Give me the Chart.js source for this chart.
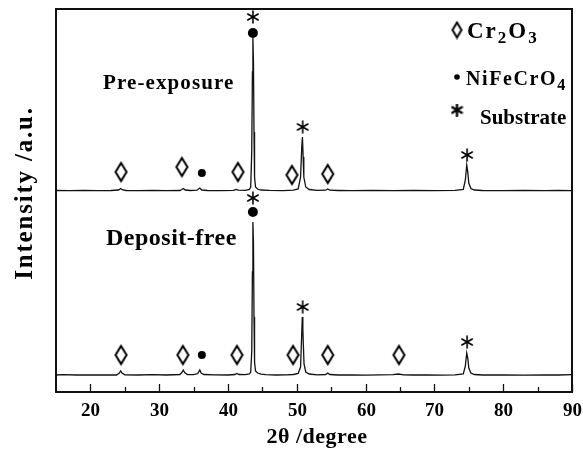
<!DOCTYPE html>
<html>
<head>
<meta charset="utf-8">
<script src="https://cdn.jsdelivr.net/npm/chart.js@4.4.0/dist/chart.umd.min.js"></script>
<style>
  html, body { margin: 0; background: #fff; }
  #wrap { width: 583px; height: 453px; }
</style>
</head>
<body>
<div id="wrap"><canvas id="xrd"></canvas></div>
<script>
// 2theta / intensity (a.u., lower one sits at ~17, upper one offset to ~201)
const lowerTheta = [15, 16, 18, 20, 22, 23.8, 24.2, 24.4, 24.6, 25, 27, 29, 31, 33, 33.3, 33.5, 33.7, 34.1, 35, 35.6, 35.9, 36.1, 36.5, 38, 40, 41, 41.3, 41.6, 42.5, 43.1, 43.3, 43.45, 43.55, 43.62, 43.7, 43.78, 43.86, 44, 44.3, 44.8, 45.5, 47, 48.5, 49.5, 50.2, 50.55, 50.7, 50.8, 50.88, 50.95, 51.05, 51.3, 51.8, 53, 54.2, 54.5, 54.8, 56, 58, 60, 62, 64, 64.8, 65.5, 67, 69, 71, 73, 74.2, 74.5, 74.7, 74.85, 75, 75.3, 75.8, 77, 80, 83, 86, 88, 90];
const lowerCounts = [17, 17.3, 17, 17.2, 17, 17, 19, 21, 19, 17.2, 17, 17.3, 17, 17.5, 19.5, 22, 19.5, 17.5, 17.3, 18.5, 22, 19, 17.5, 17.2, 17, 17.5, 18.5, 17.5, 17.3, 18, 20, 40, 120, 170, 150, 75, 30, 21, 19, 17.8, 17.3, 17, 17.2, 17.5, 18.5, 25, 55, 75, 62, 48, 28, 20, 18, 17.2, 17.5, 19, 17.5, 17, 17.2, 16.8, 17.2, 17.3, 18, 17.2, 17, 17.2, 16.9, 17.1, 18, 26, 39, 34, 24, 19, 17.5, 17, 17.2, 16.9, 17.2, 17, 17.3];

const upperTheta = [15, 17, 19, 21, 23, 24.1, 24.4, 24.7, 25.2, 27, 29, 31, 33, 33.3, 33.5, 33.8, 34.5, 35.5, 35.9, 36.2, 37, 39, 40.8, 41.2, 41.5, 42.5, 43.1, 43.3, 43.45, 43.55, 43.62, 43.7, 43.78, 43.86, 44, 44.3, 44.8, 46, 48, 49.5, 50.2, 50.55, 50.72, 50.82, 50.92, 51.02, 51.3, 51.8, 53, 54.2, 54.5, 54.8, 56, 58, 61, 64, 67, 70, 73, 74.2, 74.5, 74.7, 74.85, 75, 75.3, 75.8, 77, 80, 83, 86, 88, 90];
const upperCounts = [201.5, 201.3, 201.6, 201.3, 201.5, 202, 203.5, 202, 201.5, 201.3, 201.6, 201.4, 201.5, 202.5, 203.5, 202, 201.5, 201.8, 204, 202, 201.5, 201.3, 201.6, 202.5, 201.8, 201.7, 202.5, 205, 240, 320, 354, 330, 260, 215, 205, 203, 202, 201.6, 201.3, 201.8, 203, 215, 245, 255, 235, 215, 205, 202.5, 201.7, 201.8, 203, 201.8, 201.5, 201.3, 201.6, 201.3, 201.5, 201.4, 201.6, 202.5, 212, 227, 220, 209, 203.5, 202, 201.5, 201.3, 201.6, 201.3, 201.5, 201.4];

// phase markers (2theta, height where the symbol sits)
const cr2o3Theta = [24.45, 33.3, 41.45, 49.3, 54.5, 24.45, 33.45, 41.3, 49.45, 54.5, 64.85];
const cr2o3Y     = [220, 225, 220, 217, 218, 37, 37, 37, 37, 37, 37];
const spinelTheta = [36.2, 43.62, 36.2, 43.62];
const spinelY     = [219, 359, 37, 180];
const spinelSize  = [4, 5, 4, 5];
const substrateTheta = [43.62, 50.85, 74.75, 43.62, 50.85, 74.75];
const substrateY     = [375, 265, 237, 194, 85, 50];

const tickVals = [20, 30, 40, 50, 60, 70, 80, 90];
const minorVals = [25, 35, 45, 55, 65, 75, 85];

const SERIF = "'Liberation Serif', 'DejaVu Serif', serif";

function makeDiamond(w, h, lw) {
    const c = document.createElement('canvas');
    c.width = w; c.height = h;
    const g = c.getContext('2d');
    g.strokeStyle = '#000';
    g.lineWidth = lw;
    g.beginPath();
    g.moveTo(w / 2, lw);
    g.lineTo(w - lw, h / 2);
    g.lineTo(w / 2, h - lw);
    g.lineTo(lw, h / 2);
    g.closePath();
    g.stroke();
    return c;
}

function makeStar(r, lw) {
    const s = Math.ceil(2 * r + 2);
    const c = document.createElement('canvas');
    c.width = s; c.height = s;
    const g = c.getContext('2d');
    g.strokeStyle = '#000';
    g.lineWidth = lw;
    g.lineCap = 'round';
    [90, 30, 150].forEach(a => {
        const rad = a * Math.PI / 180;
        g.beginPath();
        g.moveTo(s / 2 - r * Math.cos(rad), s / 2 - r * Math.sin(rad));
        g.lineTo(s / 2 + r * Math.cos(rad), s / 2 + r * Math.sin(rad));
        g.stroke();
    });
    return c;
}

const diamondImg = makeDiamond(15, 22, 2);
const starImg = makeStar(6, 1.6);
const legendDiamond = makeDiamond(13, 19, 2);
const legendStar = makeStar(5.5, 2.4);

function toPoints(xs, ys) {
    return xs.map((x, i) => ({ x: x, y: ys[i] }));
}

// text with optional subscripts: parts = [[text, size, dy]]
function drawParts(ctx, x, y, parts, spacing) {
    ctx.letterSpacing = spacing + 'px';
    parts.forEach(p => {
        ctx.font = 'bold ' + p[1] + 'px ' + SERIF;
        ctx.fillText(p[0], x, y + p[2]);
        x += ctx.measureText(p[0]).width;
    });
    ctx.letterSpacing = '0px';
}

const decor = {
    id: 'decor',
    afterDraw(chart) {
        const ctx = chart.ctx;
        const a = chart.chartArea;
        const xs = chart.scales.x;
        ctx.save();
        ctx.strokeStyle = '#111';
        ctx.fillStyle = '#000';

        // frame
        ctx.lineWidth = 2;
        ctx.strokeRect(a.left, a.top, a.right - a.left, a.bottom - a.top);

        // inward ticks on the bottom axis + labels
        ctx.lineWidth = 1.3;
        ctx.font = 'bold 19px ' + SERIF;
        ctx.textAlign = 'center';
        ctx.textBaseline = 'middle';
        tickVals.forEach(v => {
            const px = Math.round(xs.getPixelForValue(v)) + 0.5;
            ctx.beginPath(); ctx.moveTo(px, a.bottom); ctx.lineTo(px, a.bottom - 8); ctx.stroke();
            ctx.fillText(String(v), px, a.bottom + 19);
        });
        minorVals.forEach(v => {
            const px = Math.round(xs.getPixelForValue(v)) + 0.5;
            ctx.beginPath(); ctx.moveTo(px, a.bottom); ctx.lineTo(px, a.bottom - 5); ctx.stroke();
        });

        ctx.textBaseline = 'alphabetic';
        ctx.textAlign = 'left';

        // sample labels
        drawParts(ctx, 103, 89, [['Pre-exposure', 21, 0]], 1.1);
        drawParts(ctx, 106, 245, [['Deposit-free', 24, 0]], 0.5);

        // legend
        ctx.drawImage(legendDiamond, 457 - 6.5, 30 - 9.5);
        drawParts(ctx, 467, 38, [['Cr', 23, 0], ['2', 17, 5], ['O', 23, 0], ['3', 17, 5]], 2);
        ctx.beginPath(); ctx.arc(457, 77, 2.8, 0, Math.PI * 2); ctx.fill();
        drawParts(ctx, 466, 85, [['NiFeCrO', 20, 0], ['4', 16, 5]], 1.6);
        ctx.drawImage(legendStar, 457 - 6.5, 110 - 6.5);
        drawParts(ctx, 480, 124, [['Substrate', 21, 0]], 0);

        // axis titles
        ctx.textAlign = 'center';
        ctx.textBaseline = 'middle';
        ctx.letterSpacing = '0.5px';
        ctx.font = 'bold 22px ' + SERIF;
        ctx.fillText('2\u03b8 /degree', 317, 437);

        ctx.translate(26, 193);
        ctx.rotate(-Math.PI / 2);
        ctx.letterSpacing = '1.8px';
        ctx.font = 'bold 25px ' + SERIF;
        ctx.fillText('Intensity /a.u.', 0, 0);
        ctx.restore();
    }
};

const config = {
    type: 'scatter',
    data: {
        datasets: [
            {
                label: 'Deposit-free',
                data: toPoints(lowerTheta, lowerCounts),
                showLine: true,
                borderColor: '#111',
                borderWidth: 1.3,
                pointRadius: 0,
                tension: 0
            },
            {
                label: 'Pre-exposure',
                data: toPoints(upperTheta, upperCounts),
                showLine: true,
                borderColor: '#111',
                borderWidth: 1.3,
                pointRadius: 0,
                tension: 0
            },
            {
                label: 'Cr2O3',
                data: toPoints(cr2o3Theta, cr2o3Y),
                pointStyle: diamondImg,
                pointRadius: 7
            },
            {
                label: 'NiFeCrO4',
                data: toPoints(spinelTheta, spinelY),
                pointStyle: 'circle',
                pointRadius: spinelSize,
                backgroundColor: '#000',
                borderColor: '#000',
                borderWidth: 0
            },
            {
                label: 'Substrate',
                data: toPoints(substrateTheta, substrateY),
                pointStyle: starImg,
                pointRadius: 6
            }
        ]
    },
    options: {
        responsive: true,
        maintainAspectRatio: false,
        animation: false,
        layout: { padding: { left: 56, right: 11, top: 9, bottom: 0 } },
        plugins: {
            legend: { display: false },
            tooltip: { enabled: false }
        },
        scales: {
            x: {
                type: 'linear',
                min: 15,
                max: 90,
                border: { display: false },
                grid: { display: false },
                ticks: { display: false },
                afterFit: (scale) => { scale.height = 61; }
            },
            y: {
                display: false,
                min: 0,
                max: 383
            }
        }
    },
    plugins: [decor]
};

new Chart(document.getElementById('xrd'), config);
</script>
</body>
</html>
